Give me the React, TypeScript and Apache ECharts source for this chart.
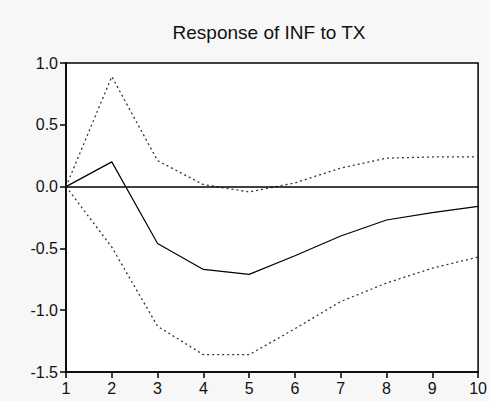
import React, { useEffect, useRef } from "react";
import * as echarts from "echarts";

const periods = [1, 2, 3, 4, 5, 6, 7, 8, 9, 10];
const response = [0, 0.2, -0.46, -0.67, -0.71, -0.56, -0.4, -0.27, -0.21, -0.16];
const upperBand = [0, 0.89, 0.21, 0.016, -0.043, 0.03, 0.15, 0.23, 0.24, 0.24];
const lowerBand = [0, -0.49, -1.13, -1.36, -1.36, -1.15, -0.93, -0.78, -0.66, -0.57];
const yTicks = [-1.5, -1.0, -0.5, 0.0, 0.5, 1.0];
const titleText = "Response of INF to TX";

const font = "'Liberation Sans', Arial, sans-serif";

export default function App() {
  const ref = useRef<HTMLDivElement>(null);
  useEffect(() => {
    if (!ref.current) return;
    const chart = echarts.init(ref.current, null, { renderer: "svg" });
    const pair = (arr: number[]) => periods.map((p, i) => [p, arr[i]]);
    chart.setOption({
      animation: false,
      backgroundColor: "#f7f7f7",
      title: {
        text: titleText,
        left: 264,
        top: 18,
        textAlign: "center",
        textStyle: { fontFamily: font, fontSize: 19, fontWeight: "normal", color: "#111" },
      },
      grid: {
        left: 66,
        top: 63,
        width: 415,
        height: 309,
        show: true,
        backgroundColor: "#ffffff",
        borderColor: "#000",
        borderWidth: 1.5,
      },
      xAxis: {
        type: "value",
        min: 1,
        max: 10,
        interval: 1,
        splitLine: { show: false },
        axisLine: { show: true, onZero: false, lineStyle: { color: "#000", width: 1.5 } },
        axisTick: { show: true, length: 6, lineStyle: { color: "#000", width: 1.5 } },
        axisLabel: { fontFamily: font, fontSize: 16, color: "#111", margin: 8 },
      },
      yAxis: {
        type: "value",
        min: -1.5,
        max: 1.0,
        interval: 0.5,
        splitLine: { show: false },
        axisLine: { show: true, lineStyle: { color: "#000", width: 1.5 } },
        axisTick: { show: true, length: 6, lineStyle: { color: "#000", width: 1.5 } },
        axisLabel: {
          fontFamily: font,
          fontSize: 16,
          color: "#111",
          margin: 8,
          formatter: (v: number) => (yTicks.includes(v) ? v.toFixed(1) : ""),
        },
      },
      series: [
        {
          type: "line",
          data: pair(response),
          symbol: "none",
          lineStyle: { color: "#000", width: 1.2 },
          markLine: {
            silent: true,
            symbol: "none",
            label: { show: false },
            lineStyle: { color: "#000", width: 1.5, type: "solid" },
            data: [{ yAxis: 0 }],
          },
        },
        {
          type: "line",
          data: pair(upperBand),
          symbol: "none",
          lineStyle: { color: "#333", width: 1.3, type: [2, 3] },
        },
        {
          type: "line",
          data: pair(lowerBand),
          symbol: "none",
          lineStyle: { color: "#333", width: 1.3, type: [2, 3] },
        },
      ],
    });
    return () => chart.dispose();
  }, []);
  return (
    <div
      ref={ref}
      style={{ position: "fixed", left: 0, top: 0, width: 490, height: 401 }}
    />
  );
}
